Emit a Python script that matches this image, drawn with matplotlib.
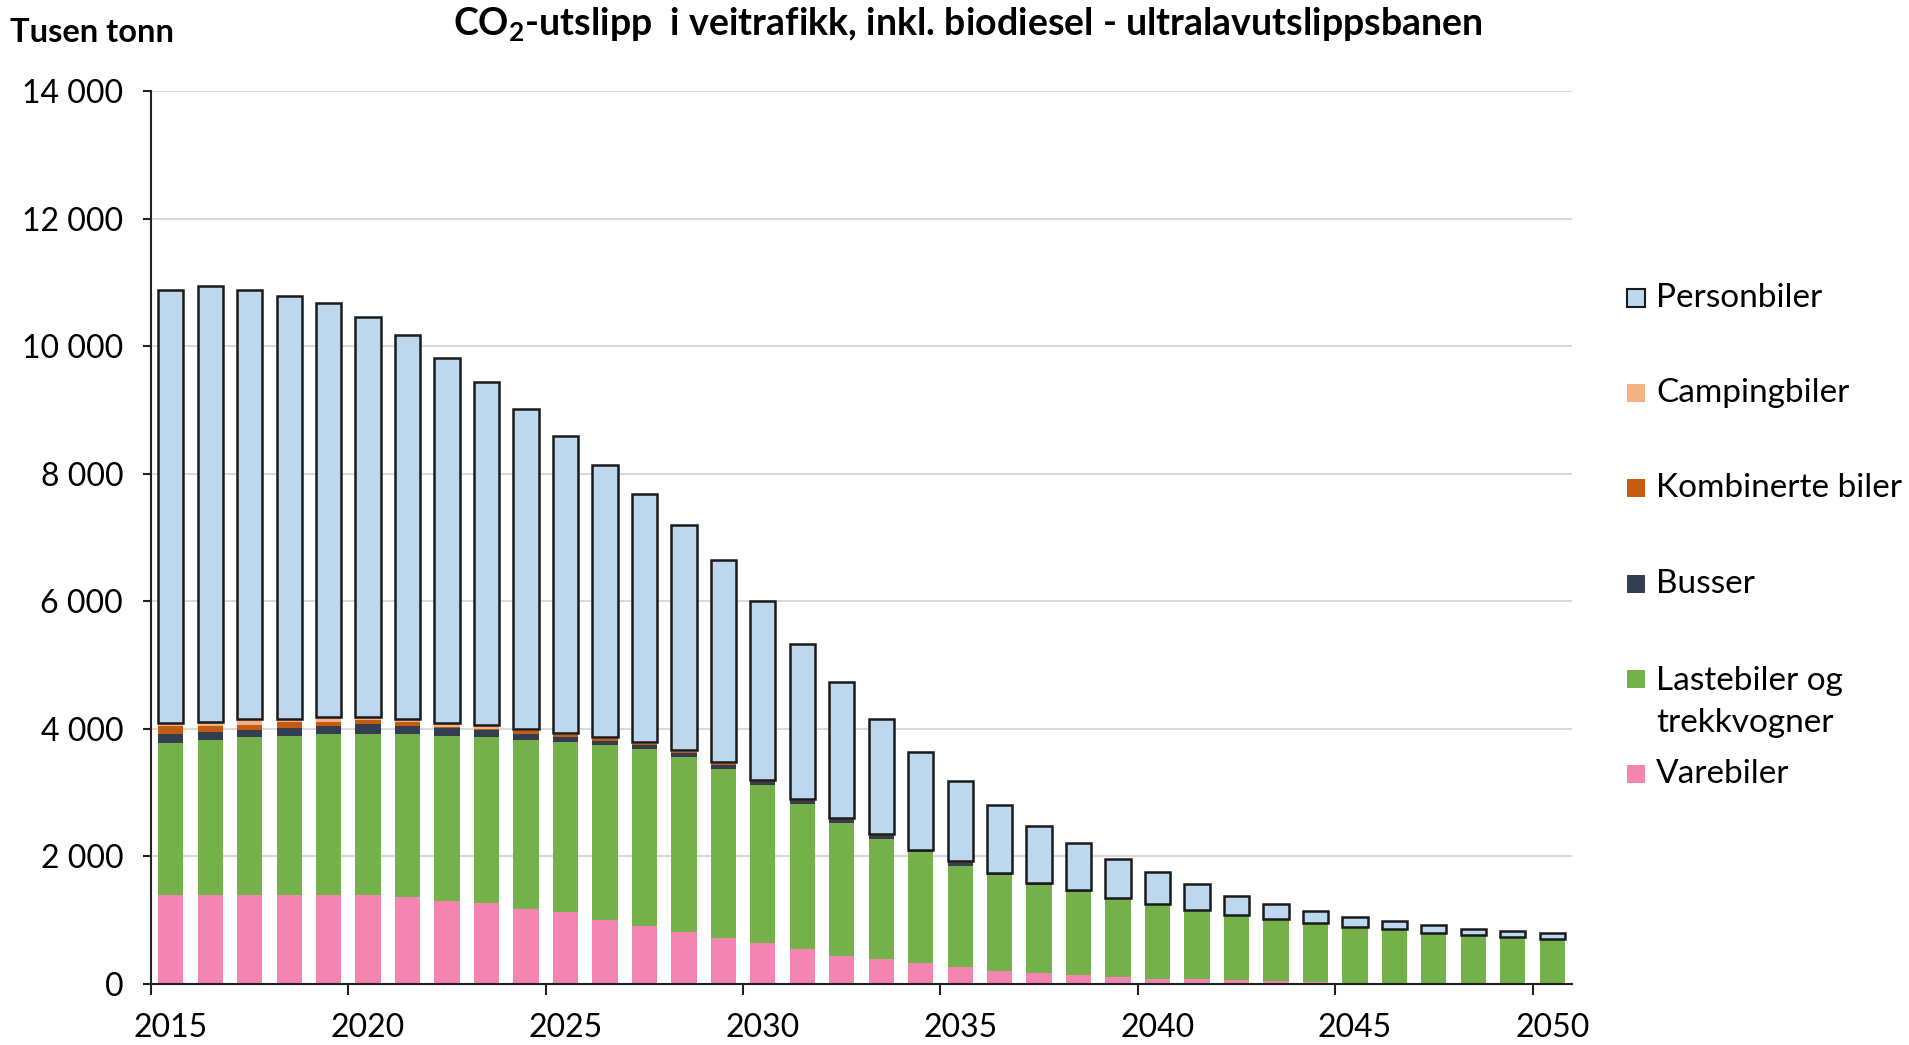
import numpy as np
import matplotlib
matplotlib.use("Agg")
import matplotlib.pyplot as plt
from matplotlib.patches import Rectangle

plt.rcParams['font.family'] = ['Lato', 'DejaVu Sans']
plt.rcParams['mathtext.fontset'] = 'custom'
plt.rcParams['mathtext.rm'] = 'Lato'
plt.rcParams['mathtext.bf'] = 'Lato:bold'

# --- data (tusen tonn CO2) ---
years = list(range(2015, 2051))

varebiler = [1394, 1394, 1394, 1394, 1394, 1394, 1363, 1300, 1274, 1179,
             1122, 1001, 907, 818, 723, 635, 541, 446, 388, 325,
             262, 205, 173, 147, 116, 84, 84, 58, 45, 31,
             20, 16, 16, 14, 14, 12]
lastebiler = [2385, 2438, 2473, 2500, 2531, 2531, 2562, 2594, 2593, 2653,
              2678, 2741, 2778, 2741, 2647, 2488, 2284, 2075, 1892, 1750,
              1593, 1504, 1382, 1299, 1215, 1163, 1066, 1010, 960, 914,
              873, 841, 784, 754, 717, 693]
busser = [145, 120, 120, 120, 115, 145, 115, 120, 120, 95,
          70, 75, 60, 65, 65, 45, 40, 50, 45, 15,
          40, 18, 20, 12, 12, 6, 5, 4, 4, 2,
          2, 2, 2, 2, 2, 2]
kombinerte = [125, 95, 70, 90, 75, 75, 70, 10, 10, 35,
              30, 25, 20, 15, 15, 12, 12, 10, 8, 5,
              10, 5, 5, 4, 3, 2, 1, 1, 1, 1,
              0.5, 0.5, 0.5, 0.5, 0.5, 0.5]
camping = [45, 60, 100, 50, 75, 45, 45, 60, 60, 40,
           35, 30, 25, 25, 25, 22, 20, 20, 20, 7,
           20, 8, 10, 6, 6, 3, 2, 2, 2, 1,
           0.5, 0.5, 0.5, 0.5, 0.5, 0.5]
personbiler = [6787, 6832, 6722, 6634, 6481, 6266, 6021, 5732, 5384, 5020,
               4654, 4266, 3891, 3537, 3176, 2808, 2437, 2132, 1803, 1540,
               1256, 1072, 889, 739, 608, 493, 407, 311, 246, 191,
               148, 126, 126, 94, 99, 95]

series = [
    ('Varebiler', varebiler, '#F484B0'),
    ('Lastebiler og\ntrekkvogner', lastebiler, '#74B14A'),
    ('Busser', busser, '#333F50'),
    ('Kombinerte biler', kombinerte, '#C55A11'),
    ('Campingbiler', camping, '#F4B183'),
    ('Personbiler', personbiler, '#BDD7EE'),
]

W, H = 1909, 1045
fig = plt.figure(figsize=(W / 100, H / 100), dpi=100)
ax = fig.add_axes([151 / W, 1 - 984 / H, (1572 - 151) / W, (984 - 91) / H])

x = np.arange(len(years))
bottom = np.zeros(len(years))
for name, vals, col in series:
    vals = np.array(vals, dtype=float)
    if name == 'Personbiler':
        ax.bar(x, vals, 0.64, bottom=bottom, color=col, edgecolor='#1a1a1a',
               linewidth=1.8, zorder=3)
    else:
        ax.bar(x, vals, 0.64, bottom=bottom, color=col, edgecolor='none',
               linewidth=0, zorder=2)
    bottom += vals

ax.set_xlim(-0.5, 35.5)
ax.set_ylim(0, 14000)
ax.set_yticks(np.arange(0, 14001, 2000))
ax.set_yticklabels([f'{v:,}'.replace(',', ' ') for v in range(0, 14001, 2000)])
ax.yaxis.grid(True, color='#D9D9D9', linewidth=1.5, zorder=0)
ax.set_axisbelow(True)

ax.set_xticks(np.arange(0, 36, 5))
ax.set_xticklabels([str(years[i]) for i in range(0, 36, 5)])
ax.set_xticks(np.arange(-0.5, 35, 5), minor=True)
ax.tick_params(axis='x', which='major', length=0, pad=21, labelsize=23)
ax.tick_params(axis='x', which='minor', length=8, width=1.5, color='#222222')
ax.tick_params(axis='y', length=6, width=1.5, pad=14, labelsize=23,
               color='#222222')

for s in ['top', 'right']:
    ax.spines[s].set_visible(False)
for s in ['left', 'bottom']:
    ax.spines[s].set_color('#222222')
    ax.spines[s].set_linewidth(1.5)

fig.text(10 / W, 1 - 33 / H, 'Tusen tonn', fontsize=23.5, fontweight='bold',
         va='center', ha='left')
fig.text(968 / W, 1 - 25 / H,
         r'CO$_{\mathbf{2}}$-utslipp  i veitrafikk, inkl. biodiesel - ultralavutslippsbanen',
         fontsize=27, fontweight='bold', va='center', ha='center')

# legend drawn on the right, top to bottom (y = first-line centre, px)
leg_y = [298, 393, 488, 584, 679, 774]
for (name, vals, col), yy in zip(series[::-1], leg_y):
    ec = '#1a1a1a' if name == 'Personbiler' else 'none'
    fig.patches.append(Rectangle((1627 / W, 1 - (yy + 9) / H), 18 / W, 18 / H,
                                 facecolor=col, edgecolor=ec, linewidth=1.5,
                                 transform=fig.transFigure))
    ty = yy + 23 if '\n' in name else yy
    fig.text(1656 / W, 1 - ty / H, name, fontsize=24, va='center',
             ha='left', linespacing=1.5)

fig.savefig('out.png', dpi=100)
